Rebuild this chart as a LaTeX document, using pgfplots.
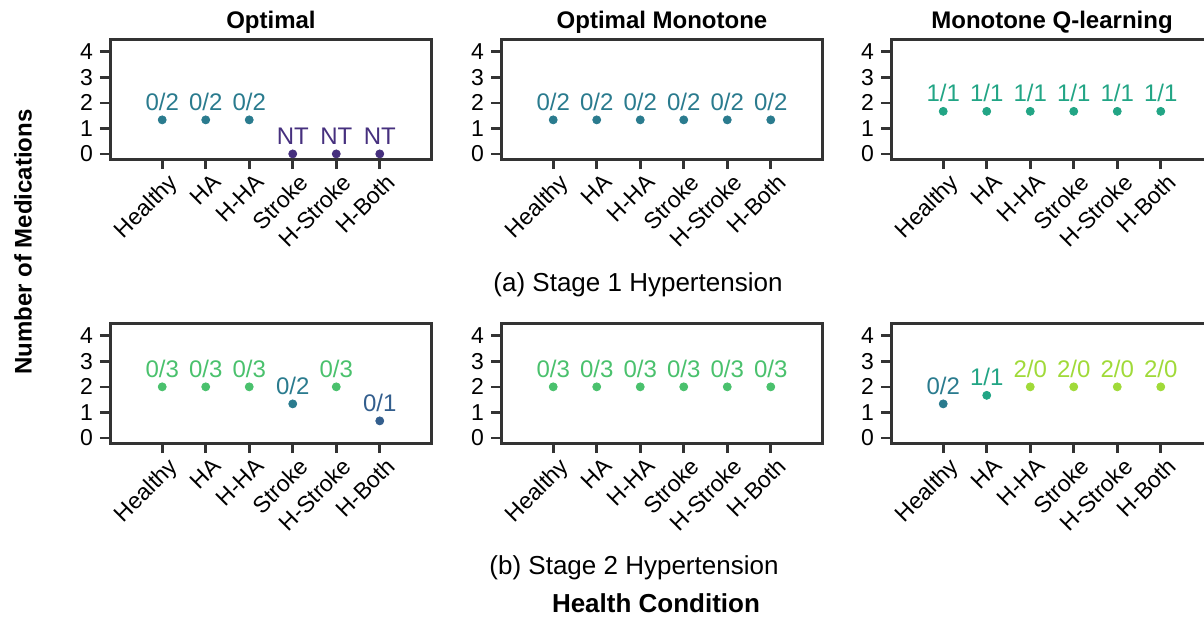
\documentclass[border=0pt]{standalone}
\usepackage{pgfplots}
\pgfplotsset{compat=1.18}
\usepackage{fontspec}
\setmainfont{Liberation Sans}
\definecolor{cNT}{HTML}{46307E}
\definecolor{cA}{HTML}{335E8D}
\definecolor{cB}{HTML}{2A7B8E}
\definecolor{cC}{HTML}{22A585}
\definecolor{cD}{HTML}{4AC16D}
\definecolor{cE}{HTML}{A0DA39}
\definecolor{axc}{HTML}{333333}
\newcommand{\labfont}{\fontsize{12bp}{14bp}\selectfont}
\newcommand{\tickfont}{\fontsize{11.5bp}{13bp}\selectfont}
\pgfplotsset{
  panel/.style={
    scale only axis, width=161bp, height=60bp,
    xmin=-1.2, xmax=6.2, ymin=-0.2, ymax=4.5,
    xtick={0,1,2,3,4,5},
    xticklabels={Healthy,HA,H-HA,Stroke,H-Stroke,H-Both},
    ytick={0,1,2,3,4},
    tick align=outside, major tick length=5bp,
    xtick pos=bottom, ytick pos=left,
    tick style={line width=1.3bp, axc},
    axis line style={line width=1.5bp, axc},
    xticklabel style={xshift=2.5bp, rotate=45, anchor=north east, font=\tickfont, inner sep=1bp},
    yticklabel style={font=\tickfont},
    /pgf/number format/assume math mode=true,
    every axis title/.style={font=\bfseries\fontsize{12bp}{14bp}\selectfont, at={(0.5,1)}, anchor=base, yshift=5.5bp},
    clip=false,
  },
}
\newcommand{\pts}[3]{\addplot[only marks, mark=*, mark size=2bp, color=#1,
  nodes near coords={#2},
  every node near coord/.append style={text=#1, anchor=base, yshift=4.7bp, font=\labfont, inner sep=0pt}]
  coordinates {#3};}
\begin{document}
\begin{tikzpicture}
\path[use as bounding box] (0,0) rectangle (602bp,-308.5bp);
% Row 1
\begin{axis}[panel, at={(55bp,-19.5bp)}, anchor=north west, title={Optimal}]
\pts{cB}{0/2}{(0,1.333)(1,1.333)(2,1.333)}
\pts{cNT}{NT}{(3,0)(4,0)(5,0)}
\end{axis}
\begin{axis}[panel, at={(250.5bp,-19.5bp)}, anchor=north west, title={Optimal Monotone}]
\pts{cB}{0/2}{(0,1.333)(1,1.333)(2,1.333)(3,1.333)(4,1.333)(5,1.333)}
\end{axis}
\begin{axis}[panel, at={(445.5bp,-19.5bp)}, anchor=north west, title={Monotone Q-learning}]
\pts{cC}{1/1}{(0,1.667)(1,1.667)(2,1.667)(3,1.667)(4,1.667)(5,1.667)}
\end{axis}
% Row 2
\begin{axis}[panel, at={(55bp,-161.5bp)}, anchor=north west]
\pts{cD}{0/3}{(0,2)(1,2)(2,2)(4,2)}
\pts{cB}{0/2}{(3,1.333)}
\pts{cA}{0/1}{(5,0.667)}
\end{axis}
\begin{axis}[panel, at={(250.5bp,-161.5bp)}, anchor=north west]
\pts{cD}{0/3}{(0,2)(1,2)(2,2)(3,2)(4,2)(5,2)}
\end{axis}
\begin{axis}[panel, at={(445.5bp,-161.5bp)}, anchor=north west]
\pts{cB}{0/2}{(0,1.333)}
\pts{cC}{1/1}{(1,1.667)}
\pts{cE}{2/0}{(2,2)(3,2)(4,2)(5,2)}
\end{axis}
\node[anchor=base, font=\fontsize{13bp}{15bp}\selectfont] at (319bp,-145.5bp) {(a) Stage 1 Hypertension};
\node[anchor=base, font=\fontsize{13bp}{15bp}\selectfont] at (317bp,-287bp) {(b) Stage 2 Hypertension};
\node[anchor=base, font=\bfseries\fontsize{13bp}{15bp}\selectfont] at (328bp,-306bp) {Health Condition};
\node[rotate=90, font=\bfseries\fontsize{12bp}{14bp}\selectfont] at (11.5bp,-121bp) {Number of Medications};
\end{tikzpicture}
\end{document}
